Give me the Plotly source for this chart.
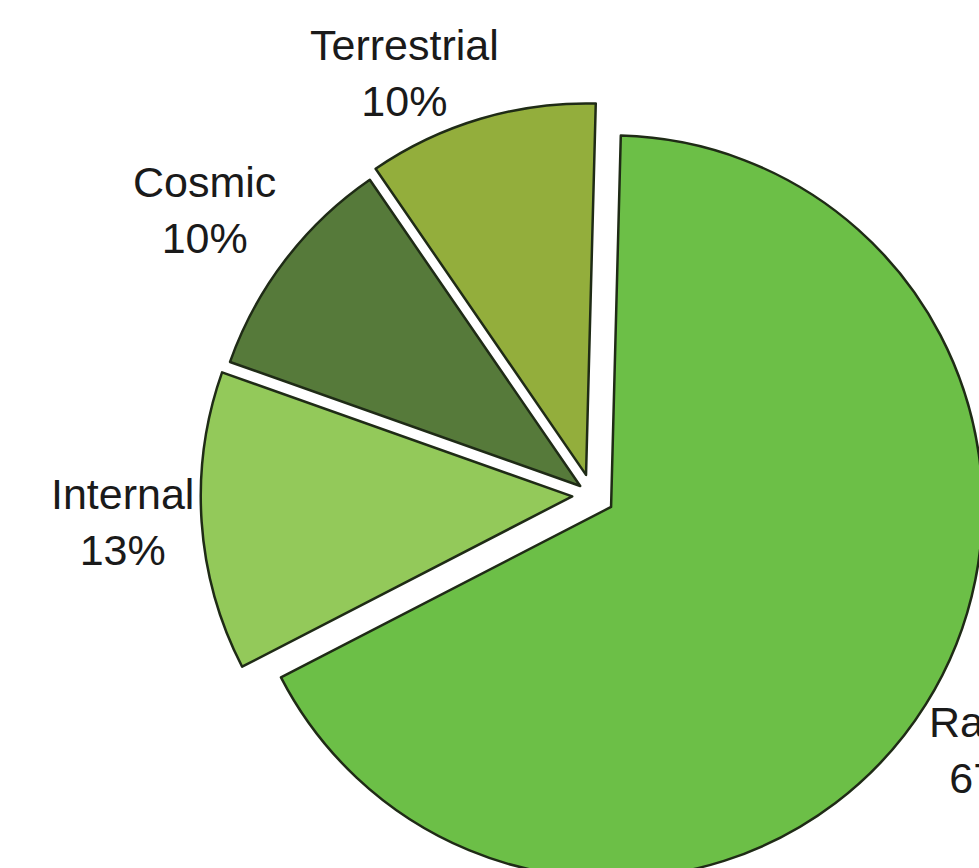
import plotly.graph_objects as go

# Sources of radiation exposure (share of total dose)
sources = ["Radon", "Internal", "Cosmic", "Terrestrial"]
shares = [67, 13, 10, 10]
slice_colors = ["#6cbf47", "#93c95a", "#567a3a", "#93ae3c"]
explode = [0.0606, 0.0533, 0.0400, 0.0565]

# Canvas is a little larger than the viewport so the pie runs off the right/bottom edge
W, H = 986, 889
ML, MT = 198, 101
PW, PH = W - ML, H - MT


def px_to_paper(px, py):
    return (px - ML) / PW, 1 - (py - MT) / PH


# Label centres (pixels on the page)
label_pos = {
    "Radon": (992, 750),
    "Internal": (122, 522),
    "Cosmic": (204, 210),
    "Terrestrial": (404, 73),
}

total = sum(shares)
annotations = []
for name, val in zip(sources, shares):
    x, y = px_to_paper(*label_pos[name])
    annotations.append(dict(
        x=x, y=y, xref="paper", yref="paper",
        text=f"{name}<br>{round(100 * val / total)}%",
        showarrow=False, xanchor="center", yanchor="middle",
        font=dict(family="Liberation Sans, Arial, sans-serif", size=43, color="#1a1a1a"),
        align="center",
    ))

fig = go.Figure(go.Pie(
    labels=sources,
    values=shares,
    sort=False,
    direction="clockwise",
    rotation=1.5,
    pull=explode,
    textinfo="none",
    hoverinfo="label+percent",
    marker=dict(colors=slice_colors, line=dict(color="#1f2b16", width=2.5)),
    showlegend=False,
))

fig.update_layout(
    width=W, height=H,
    margin=dict(l=ML, t=MT, r=0, b=0, pad=0),
    paper_bgcolor="white",
    plot_bgcolor="white",
    annotations=annotations,
)

fig.write_html(
    "out.html",
    post_script=(
        "document.documentElement.style.overflow='hidden';"
        "document.body.style.overflow='hidden';"
        "document.body.style.margin='0';"
    ),
)
